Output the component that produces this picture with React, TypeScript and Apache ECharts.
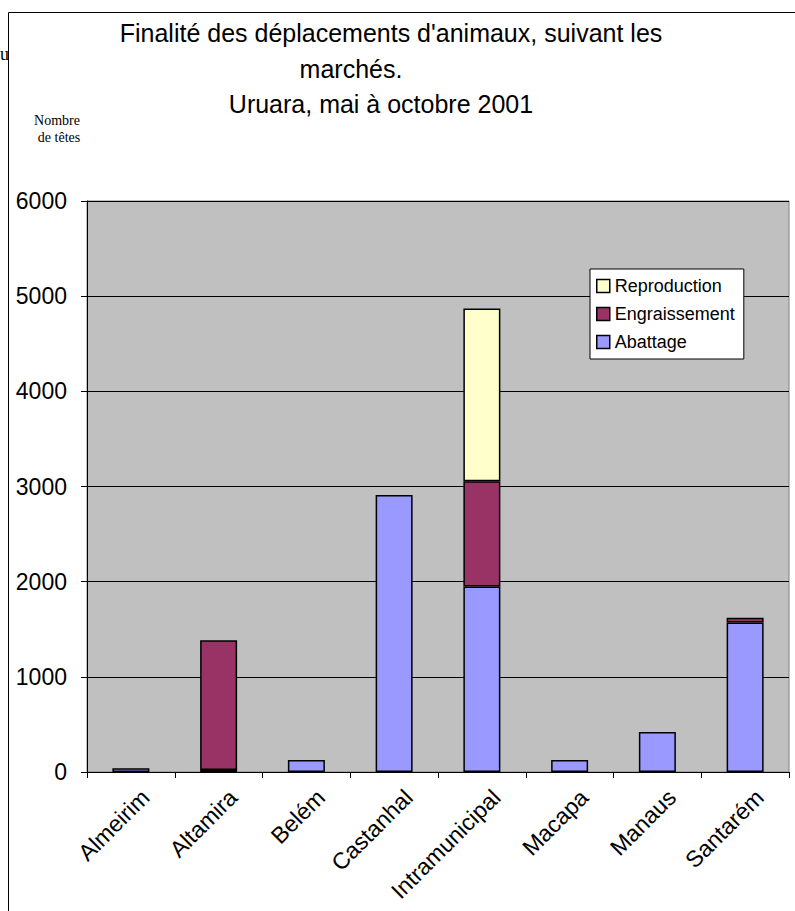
import React, { useEffect, useRef } from "react";
import * as echarts from "echarts";

const categories = ["Almeirim", "Altamira", "Belém", "Castanhal", "Intramunicipal", "Macapa", "Manaus", "Santarém"];
const abattage = [40, 20, 125, 2910, 1950, 125, 420, 1570];
const engraissement = [null, 1365, null, null, 1105, null, null, 50];
const reproduction = [null, null, null, null, 1815, null, null, null];
const legendOrder = ["Reproduction", "Engraissement", "Abattage"];
const titleLines = ["Finalité des déplacements d'animaux, suivant les", "marchés.", "Uruara, mai à octobre 2001"];
const yTitle = ["Nombre", "de têtes"];

const SANS = "'Liberation Sans', Arial, sans-serif";
const SERIF = "'Liberation Serif', 'Times New Roman', serif";

export default function App() {
  const ref = useRef<HTMLDivElement>(null);
  useEffect(() => {
    if (!ref.current) return;
    const chart = echarts.init(ref.current, null, { renderer: "svg" });
    const barBase = {
      type: "bar",
      stack: "total",
      barWidth: 37,
    };
    chart.setOption({
      animation: false,
      backgroundColor: "#ffffff",
      grid: {
        left: 87,
        right: 6,
        top: 201,
        bottom: 139,
        show: true,
        backgroundColor: "#C0C0C0",
        borderColor: "#808080",
        borderWidth: 1,
      },
      legend: {
        data: legendOrder,
        orient: "vertical",
        left: 590,
        top: 269,
        backgroundColor: "#ffffff",
        borderColor: "#000000",
        borderWidth: 1,
        padding: [8, 9, 8, 6],
        itemWidth: 13,
        itemHeight: 13,
        itemGap: 10,
        icon: "rect",
        itemStyle: { borderColor: "#000", borderWidth: 1.5 },
        textStyle: { fontSize: 18, color: "#000", fontFamily: SANS },
      },
      xAxis: {
        type: "category",
        data: categories,
        axisLine: { lineStyle: { color: "#000", width: 1 } },
        axisTick: { show: true, length: 6, lineStyle: { color: "#000" } },
        axisLabel: {
          rotate: 45,
          interval: 0,
          fontSize: 23,
          fontFamily: SANS,
          color: "#000",
          margin: 7,
          verticalAlign: "top",
          padding: [9, 0, 0, 0],
        },
      },
      yAxis: {
        type: "value",
        min: 0,
        max: 6000,
        interval: 1000,
        axisLine: { show: true, lineStyle: { color: "#000", width: 1 } },
        axisTick: { show: true, length: 6, lineStyle: { color: "#000" } },
        splitLine: { show: true, lineStyle: { color: "#000", width: 1 } },
        axisLabel: {
          fontSize: 23,
          fontFamily: SANS,
          color: "#000",
          margin: 20,
          formatter: (v: number) => String(v),
        },
      },
      series: [
        {
          ...barBase,
          name: "Abattage",
          data: abattage,
          itemStyle: { color: "#9999FF", borderColor: "#000", borderWidth: 1.5 },
        },
        {
          ...barBase,
          name: "Engraissement",
          data: engraissement,
          itemStyle: { color: "#993366", borderColor: "#000", borderWidth: 1.5 },
        },
        {
          ...barBase,
          name: "Reproduction",
          data: reproduction,
          itemStyle: { color: "#FFFFCC", borderColor: "#000", borderWidth: 1.5 },
        },
      ],
      graphic: [
        {
          type: "rect",
          shape: { x: 8.5, y: 12.5, width: 900, height: 1000 },
          style: { fill: "none", stroke: "#000", lineWidth: 1 },
          silent: true,
        },
        {
          type: "text",
          x: 0,
          y: 45,
          style: { text: "u", font: `18px ${SERIF}`, fill: "#000" },
        },
        {
          type: "text",
          x: 391,
          y: 33,
          style: { text: titleLines[0], font: `25px ${SANS}`, fill: "#000", align: "center", verticalAlign: "middle" },
        },
        {
          type: "text",
          x: 351,
          y: 69,
          style: { text: titleLines[1], font: `25px ${SANS}`, fill: "#000", align: "center", verticalAlign: "middle" },
        },
        {
          type: "text",
          x: 381,
          y: 104,
          style: { text: titleLines[2], font: `25px ${SANS}`, fill: "#000", align: "center", verticalAlign: "middle" },
        },
        {
          type: "text",
          x: 57,
          y: 120,
          style: { text: yTitle[0], font: `14px ${SERIF}`, fill: "#000", align: "center", verticalAlign: "middle" },
        },
        {
          type: "text",
          x: 59,
          y: 137,
          style: { text: yTitle[1], font: `14px ${SERIF}`, fill: "#000", align: "center", verticalAlign: "middle" },
        },
      ],
    });
    return () => chart.dispose();
  }, []);
  return (
    <div
      ref={ref}
      style={{ position: "absolute", left: 0, top: 0, width: 795, height: 911 }}
    />
  );
}
